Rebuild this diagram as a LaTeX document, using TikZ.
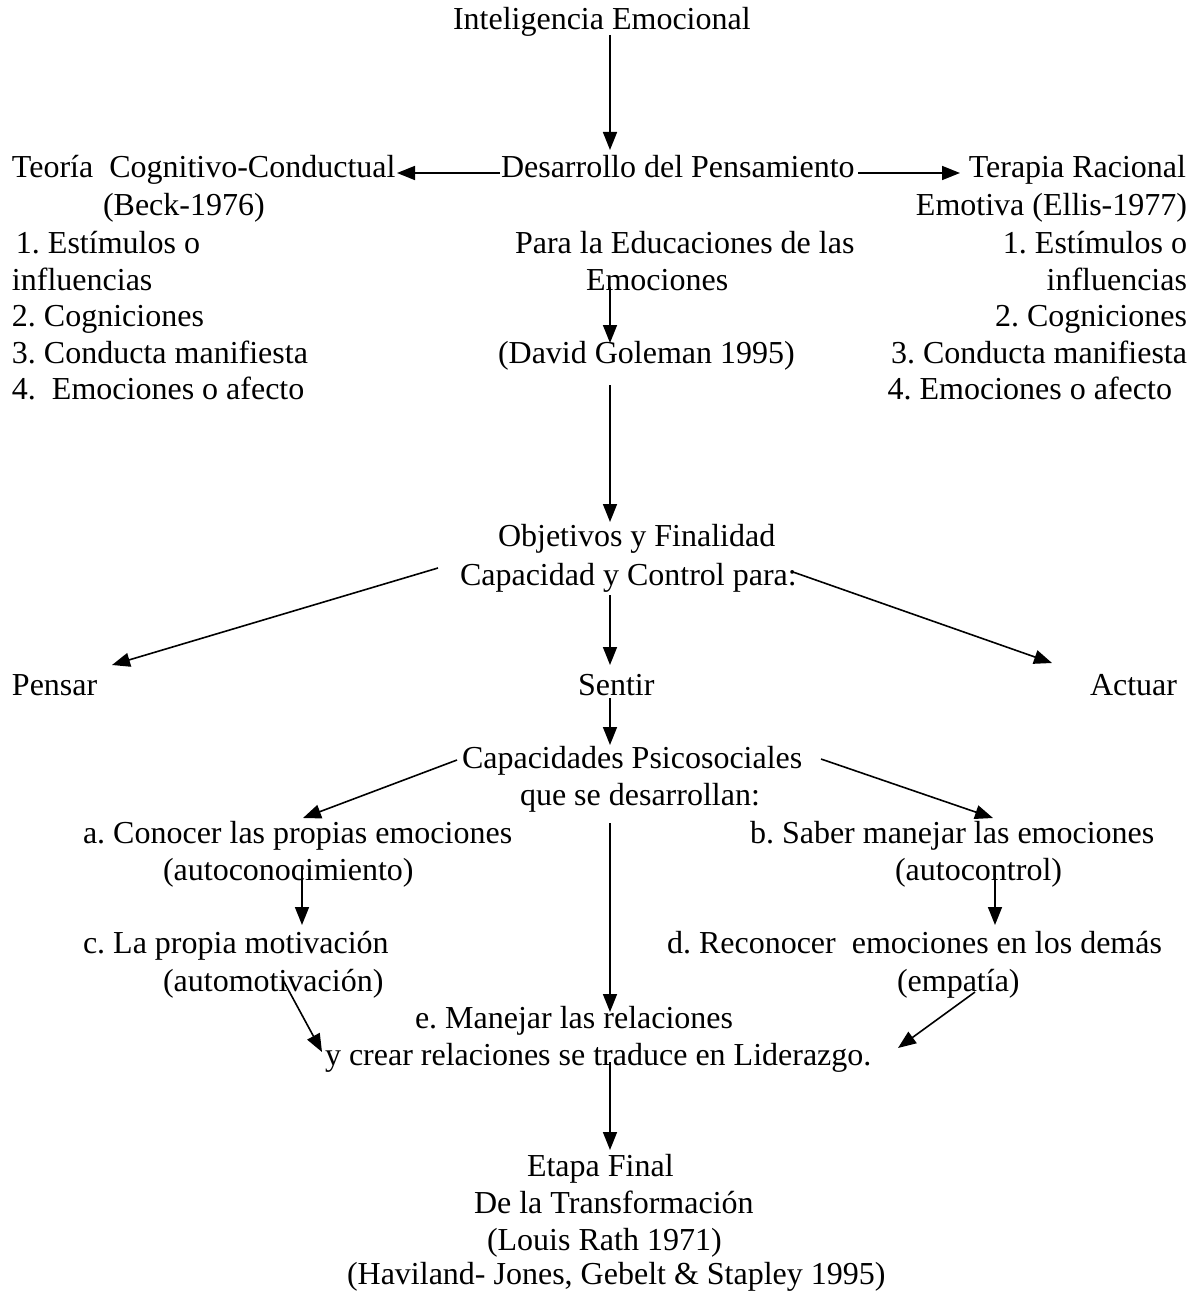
\documentclass[tikz,border=0pt]{standalone}
\usepackage{fontspec}
\setmainfont{Liberation Serif}
\usetikzlibrary{arrows.meta}
\frenchspacing
\begin{document}
\begin{tikzpicture}[x=1pt,y=-1pt,
  every node/.style={inner sep=0pt,outer sep=0pt,font=\fontsize{32}{37}\selectfont},
  lt/.style={anchor=base west},
  rt/.style={anchor=base east},
  arr/.style={line width=1.6pt,-{Triangle[length=18pt,width=14pt]}}]
\useasboundingbox[fill=white] (0,0) rectangle (1196,1292);
% texts
\node[lt] (ie) at (453,30) {Inteligencia Emocional};
\node[lt] (tcc) at (12,178) {Teoría\ \ Cognitivo-Conductual};
\node[lt] (dp) at (501,178) {Desarrollo del Pensamiento};
\node[rt] (tr) at (1186,178) {Terapia Racional};
\node[lt] (beck) at (103,215) {(Beck-1976)};
\node[rt] (ellis) at (1187,215) {Emotiva (Ellis-1977)};
\node[lt] (l1) at (16,253) {1. Estímulos o};
\node[lt] (pe) at (515,253) {Para la Educaciones de las};
\node[rt] (r1) at (1187,253) {1. Estímulos o};
\node[lt] (l1b) at (12,290) {influencias};
\node[lt] (emo) at (586,290) {Emociones};
\node[rt] (r1b) at (1187,290) {influencias};
\node[lt] (l2) at (12,326) {2. Cogniciones};
\node[rt] (r2) at (1187,326) {2. Cogniciones};
\node[lt] (l3) at (12,363) {3. Conducta manifiesta};
\node[lt] (dg) at (498,363) {(David Goleman 1995)};
\node[rt] (r3) at (1187,363) {3. Conducta manifiesta};
\node[lt] (l4) at (12,399) {4.\ \ Emociones o afecto};
\node[rt] (r4) at (1172,399) {4. Emociones o afecto};
\node[lt] (obj) at (498,546) {Objetivos y Finalidad};
\node[lt] (cap) at (460,585) {Capacidad y Control para:};
\node[lt] (pen) at (12,695) {Pensar};
\node[lt] (sen) at (578,695) {Sentir};
\node[lt] (act) at (1090,695) {Actuar};
\node[lt] (cps) at (462,768) {Capacidades Psicosociales};
\node[lt] (qsd) at (520,805) {que se desarrollan:};
\node[lt] (a) at (83,843) {a. Conocer las propias emociones};
\node[lt] (b) at (750,843) {b. Saber manejar las emociones};
\node[lt] (a2) at (163,880) {(autoconocimiento)};
\node[lt] (b2) at (895,880) {(autocontrol)};
\node[lt] (c) at (83,953) {c. La propia motivación};
\node[lt] (d) at (667,953) {d. Reconocer\ \ emociones en los demás};
\node[lt] (c2) at (163,991) {(automotivación)};
\node[lt] (d2) at (897,991) {(empatía)};
\node[lt] (e) at (415,1028) {e. Manejar las relaciones};
\node[lt] (e2) at (325,1065) {y crear relaciones se traduce en Liderazgo.};
\node[lt] (f1) at (527,1176) {Etapa Final};
\node[lt] (f2) at (474,1213) {De la Transformación};
\node[lt] (f3) at (487,1250) {(Louis Rath 1971)};
\node[lt] (f4) at (347,1284) {(Haviland- Jones, Gebelt \& Stapley 1995)};
% connector end points
\coordinate (p1s) at (610,35);   \coordinate (p1e) at (610,150);
\coordinate (p2s) at (500,173);  \coordinate (p2e) at (397,173);
\coordinate (p3s) at (858,173);  \coordinate (p3e) at (960,173);
\coordinate (p4s) at (610,287);  \coordinate (p4e) at (610,343);
\coordinate (p5s) at (610,385);  \coordinate (p5e) at (610,522);
\coordinate (p6s) at (438,568);  \coordinate (p6e) at (112,665);
\coordinate (p7s) at (610,595);  \coordinate (p7e) at (610,665);
\coordinate (p8s) at (793,572);  \coordinate (p8e) at (1052,663);
\coordinate (p9s) at (610,698);  \coordinate (p9e) at (610,745);
\coordinate (p10s) at (457,760); \coordinate (p10e) at (303,818);
\coordinate (p11s) at (821,759); \coordinate (p11e) at (993,818);
\coordinate (p12s) at (610,823); \coordinate (p12e) at (610,1012);
\coordinate (p13s) at (302,866); \coordinate (p13e) at (302,925);
\coordinate (p14s) at (995,870); \coordinate (p14e) at (995,925);
\coordinate (p15s) at (283,980); \coordinate (p15e) at (322,1052);
\coordinate (p16s) at (975,992); \coordinate (p16e) at (898,1048);
\coordinate (p17s) at (610,1062); \coordinate (p17e) at (610,1150);
\foreach \i in {1,...,17} {\draw[arr] (p\i s) -- (p\i e);}
\end{tikzpicture}
\end{document}
